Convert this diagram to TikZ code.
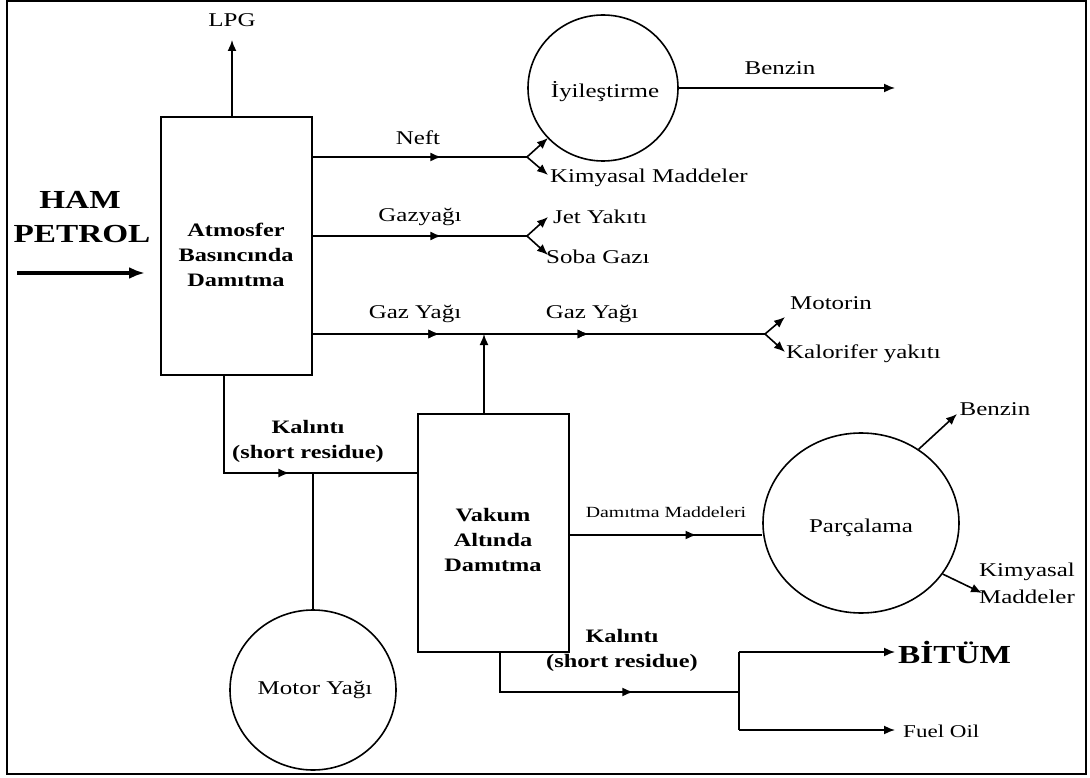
\documentclass[tikz,border=0pt]{standalone}
\usepackage{fontspec}
\setmainfont{Liberation Serif}[FakeStretch=1.28]
\usetikzlibrary{arrows.meta,decorations.markings,shapes.geometric}
\tikzset{
  ln/.style={line width=1.6pt},
  arr/.style={ln,-{Latex[length=11pt,width=9pt]}},
  mid/.style={postaction={decorate},decoration={markings,mark=at position #1 with {\arrow{Latex[length=11pt,width=9pt]}}}},
  box/.style={draw,line width=1.6pt,rectangle,inner sep=0pt},
  circ/.style={draw,line width=1.6pt,ellipse,inner sep=0pt},
  lbl/.style={font=\fontsize{19.5}{22}\selectfont,inner sep=0pt},
  blbl/.style={font=\fontsize{19}{25}\selectfont\bfseries,inner sep=0pt,align=center},
  big/.style={font=\fontsize{26}{32}\selectfont\bfseries,inner sep=0pt}
}
\begin{document}
\begin{tikzpicture}[x=1pt,y=-1pt]
\useasboundingbox (0,0) rectangle (1090,778);
\draw[line width=1.6pt] (7,1) rectangle (1086,774);
% boxes
\node[box,minimum width=151,minimum height=258] (atm) at (236.5,246) {};
\node[box,minimum width=151,minimum height=238] (vak) at (493.5,533) {};
\node[circ,minimum width=150,minimum height=146] (iyi) at (603,88) {};
\node[circ,minimum width=196,minimum height=180] (parc) at (861,523) {};
\node[circ,minimum width=166,minimum height=160] (motor) at (313,690) {};
% texts
\node[blbl] (atmt) at (236,255) {Atmosfer\\Basıncında\\Damıtma};
\node[blbl] (vakt) at (493,540) {Vakum\\Altında\\Damıtma};
\node[lbl] (iyit) at (605,92) {İyileştirme};
\node[lbl] (parct) at (861,528) {Parçalama};
\node[lbl] (motort) at (315,690) {Motor Yağı};
\node[lbl] (lpg) at (232,20) {LPG};
\node[big] (ham) at (80,200) {HAM};
\node[big] (petrol) at (82,234) {PETROL};
\node[lbl] (neft) at (418,138) {Neft};
\node[lbl] (gazyagi) at (420,217) {Gazyağı};
\node[lbl] (gy1) at (415,314) {Gaz Yağı};
\node[lbl] (gy2) at (592,314) {Gaz Yağı};
\node[lbl,anchor=west] (kim1) at (550,178) {Kimyasal Maddeler};
\node[lbl] (jet) at (600,217) {Jet Yakıtı};
\node[lbl,anchor=west] (soba) at (546,257) {Soba Gazı};
\node[lbl] (motorin) at (831,303) {Motorin};
\node[lbl,anchor=west] (kalorifer) at (786,354) {Kalorifer yakıtı};
\node[lbl] (benzin1) at (780,68) {Benzin};
\node[blbl] (kal1) at (308,441) {Kalıntı\\(short residue)};
\node[lbl,font=\fontsize{15.5}{17}\selectfont] (dammad) at (666,512) {Damıtma Maddeleri};
\node[lbl] (benzin2) at (995,409) {Benzin};
\node[lbl,align=center,font=\fontsize{19.5}{27}\selectfont] (kim2) at (1027,583) {Kimyasal\\Maddeler};
\node[blbl] (kal2) at (622,650) {Kalıntı\\(short residue)};
\node[big,anchor=west] (bitum) at (898,652) {BİTÜM};
\node[lbl,anchor=west,font=\fontsize{18}{20}\selectfont] (fuel) at (903,731) {Fuel Oil};
% coordinates
\coordinate (hamS) at (17,273);
\coordinate (hamE) at (145,273);
\coordinate (lpgT) at (232,40);
\coordinate (nb) at (527,157);
\coordinate (nbu) at (548,138);
\coordinate (nbd) at (548,175);
\coordinate (gb) at (527,236);
\coordinate (gbu) at (548,217);
\coordinate (gbd) at (548,255);
\coordinate (gyb) at (765,334);
\coordinate (gybu) at (785,317);
\coordinate (gybd) at (785,352);
\coordinate (gj) at (484,334);
\coordinate (b1) at (895,86);
\coordinate (k1) at (224,473);
\coordinate (m1) at (313,473);
\coordinate (dm) at (569,535);
\coordinate (pb) at (957,414);
\coordinate (pk) at (982,593);
\coordinate (r1) at (500,692);
\coordinate (r2) at (739,692);
\coordinate (rb) at (739,652);
\coordinate (rf) at (739,730);
\coordinate (rbE) at (895,652);
\coordinate (rfE) at (895,730);
% connectors
\draw[line width=3.5pt,-{Latex[length=16pt,width=12pt]}] (hamS) -- (hamE);
\draw[arr] (lpgT |- atm.north) -- (lpgT);
\draw[ln,mid=0.6] (atm.east |- nb) -- (nb);
\draw[arr] (nb) -- (nbu);
\draw[arr] (nb) -- (nbd);
\draw[ln,mid=0.6] (atm.east |- gb) -- (gb);
\draw[arr] (gb) -- (gbu);
\draw[arr] (gb) -- (gbd);
\draw[ln,mid=0.28,mid=0.61] (atm.east |- gyb) -- (gyb);
\draw[arr] (gyb) -- (gybu);
\draw[arr] (gyb) -- (gybd);
\draw[arr] (gj |- vak.north) -- (gj);
\draw[arr] (iyi.east) -- (b1 |- iyi.east);
\draw[ln,mid=0.56] (k1 |- atm.south) -- (k1) -- (vak.west |- k1);
\draw[ln] (m1) -- (motor.north);
\draw[ln,mid=0.66] (dm) -- (parc.west |- dm);
\draw[arr] (parc.52) -- (pb);
\draw[arr] (parc.-32) -- (pk);
\draw[ln,mid=0.62] (r1 |- vak.south) -- (r1) -- (r2);
\draw[ln] (rb) -- (rf);
\draw[arr] (rb) -- (rbE);
\draw[arr] (rf) -- (rfE);
\end{tikzpicture}
\end{document}
